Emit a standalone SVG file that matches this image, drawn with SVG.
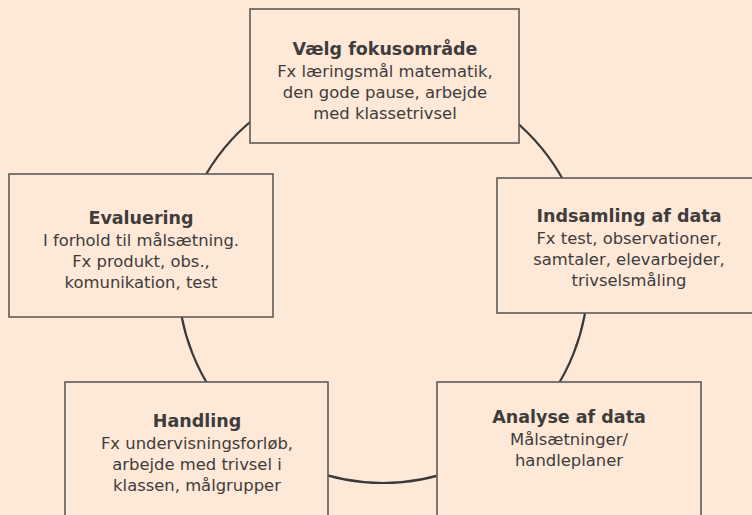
<svg xmlns="http://www.w3.org/2000/svg" width="752" height="515" viewBox="0 0 752 515">
<style>
.bg{fill:#fee8d7}
.box{fill:#fee8d7;stroke:#5e5b58;stroke-width:1.6}
.ring{fill:none;stroke:#3b3a39;stroke-width:2.2}
text{font-family:"DejaVu Sans","Noto Sans",sans-serif;fill:#3e3d3c;text-anchor:middle}
.t{font-size:17.5px;font-weight:700}
.b{font-size:16.4px}
</style>
<rect class="bg" x="0" y="0" width="752" height="515"/>
<g id="connectors">
<circle class="ring" cx="383" cy="278" r="205"/>
</g>
<g id="node-fokus">
<rect class="box" x="250" y="9" width="269" height="134"/>
<text class="t" x="385" y="55">Vælg fokusområde</text>
<text class="b" x="385" y="77">Fx læringsmål matematik,</text>
<text class="b" x="385" y="98">den gode pause, arbejde</text>
<text class="b" x="385" y="119">med klassetrivsel</text>
</g>
<g id="node-evaluering">
<rect class="box" x="9" y="174" width="264" height="143"/>
<text class="t" x="141" y="224">Evaluering</text>
<text class="b" x="141" y="246">I forhold til målsætning.</text>
<text class="b" x="141" y="267">Fx produkt, obs.,</text>
<text class="b" x="141" y="288">komunikation, test</text>
</g>
<g id="node-indsamling">
<rect class="box" x="497" y="178" width="265" height="135"/>
<text class="t" x="629" y="222">Indsamling af data</text>
<text class="b" x="629" y="244">Fx test, observationer,</text>
<text class="b" x="629" y="265">samtaler, elevarbejder,</text>
<text class="b" x="629" y="286">trivselsmåling</text>
</g>
<g id="node-handling">
<rect class="box" x="65" y="382" width="263" height="140"/>
<text class="t" x="197" y="427">Handling</text>
<text class="b" x="197" y="449">Fx undervisningsforløb,</text>
<text class="b" x="197" y="470">arbejde med trivsel i</text>
<text class="b" x="197" y="491">klassen, målgrupper</text>
</g>
<g id="node-analyse">
<rect class="box" x="437" y="382" width="264" height="140"/>
<text class="t" x="569" y="423">Analyse af data</text>
<text class="b" x="569" y="445">Målsætninger/</text>
<text class="b" x="569" y="466">handleplaner</text>
</g>
</svg>
